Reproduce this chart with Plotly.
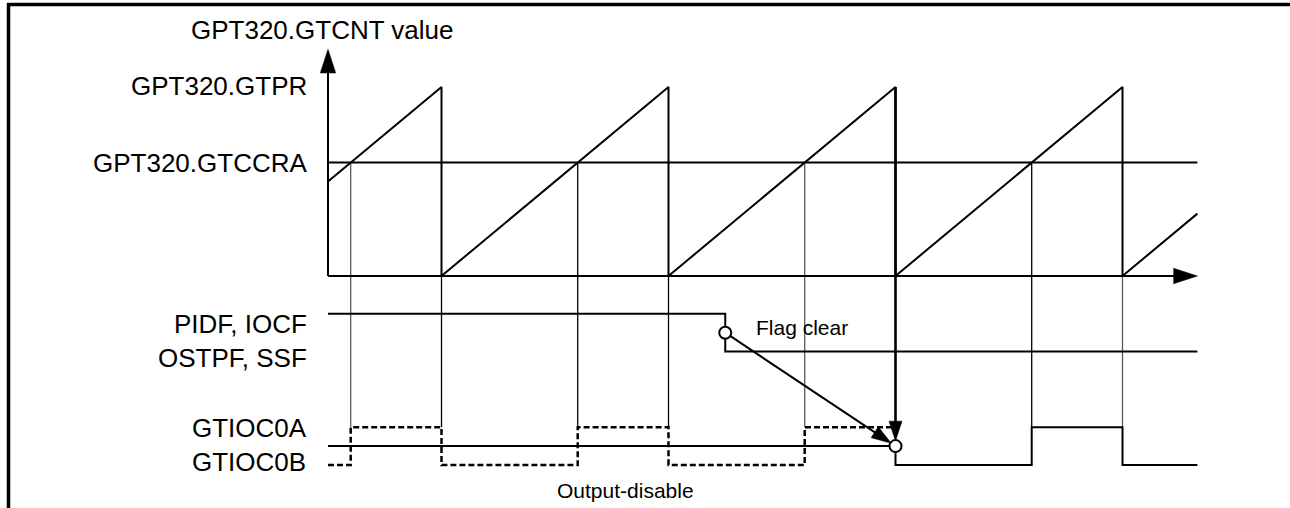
import plotly.graph_objects as go

# ---------------- data (time in GTCNT periods, counter normalised to GTPR) ----------------
reset_times = [0.5, 1.5, 2.5, 3.5]             # GTCNT reaches GTPR and is cleared
compare_match_times = [0.1, 1.1, 2.1, 3.1]     # GTCNT == GTCCRA
cnt_t = [0.0, 0.5, 0.5, 1.5, 1.5, 2.5, 2.5, 3.5, 3.5, 3.83]
cnt_v = [0.5, 1.0, 0.0, 1.0, 0.0, 1.0, 0.0, 1.0, 0.0, 0.33]
GTPR = 1.0
GTCCRA = 0.6
T_END = 3.83
CNT_AXIS_TOP = 1.2

# status flags (PIDF, IOCF, OSTPF, SSF): 1 = set, 0 = cleared
flag_t = [0.0, 1.75, 1.75, T_END]
flag_v = [1, 1, 0, 0]
flag_clear_t = 1.75

# output pins: 1 = high, 0 = low, 0.5 = output-disable level
gtioc0a_t = [0.0, 2.5, 2.5, 3.1, 3.1, 3.5, 3.5, T_END]
gtioc0a_v = [0.5, 0.5, 0, 0, 1, 1, 0, 0]
gtioc0b_t = [0.0, 0.1, 0.1, 0.5, 0.5, 1.1, 1.1, 1.5, 1.5, 2.1, 2.1, 2.5]
gtioc0b_v = [0, 0, 1, 1, 0, 0, 1, 1, 0, 0, 1, 1]
output_release_t = 2.5

label_cnt_axis = "GPT320.GTCNT value"
label_gtpr = "GPT320.GTPR"
label_gtccra = "GPT320.GTCCRA"
label_flags = "PIDF, IOCF<br>OSTPF, SSF"
label_io = "GTIOC0A<br>GTIOC0B"
label_flag_clear = "Flag clear"
label_output_disable = "Output-disable"
output_disable_label_t = 1.31

# ---------------- layout constants ----------------
FLAG_ROW = -0.4      # baseline of flag row (counter units)
IO_ROW = -1.0        # baseline of pin row
SWING = 0.2          # height of a logic level
W, H = 1290, 508
X_RANGE = [-328 / 227, (W - 328) / 227]
Y_RANGE = [-(H - 276) / 189, 276 / 189]
FONT = "Liberation Sans, Arial, sans-serif"
BLACK = "#000000"
GRAY = "#5a5a5a"
LW = 2


def row(vals, base):
    return [base + SWING * v for v in vals]


io_high = IO_ROW + SWING
fig = go.Figure()

# vertical guide lines
guides_black_x, guides_black_y, guides_gray_x, guides_gray_y = [], [], [], []
for i, t in enumerate(compare_match_times):
    xs, ys = (guides_gray_x, guides_gray_y) if i % 2 == 0 else (guides_black_x, guides_black_y)
    xs += [t, t, None]
    ys += [GTCCRA, io_high, None]
for i, t in enumerate(reset_times):
    if t == output_release_t:
        continue
    xs, ys = (guides_gray_x, guides_gray_y) if i == 3 else (guides_black_x, guides_black_y)
    xs += [t, t, None]
    ys += [0, io_high, None]
fig.add_trace(go.Scatter(x=guides_black_x, y=guides_black_y, mode="lines",
                         line=dict(color=BLACK, width=1.3)))
fig.add_trace(go.Scatter(x=guides_gray_x, y=guides_gray_y, mode="lines",
                         line=dict(color=GRAY, width=1.3)))

# GTCCRA level
fig.add_trace(go.Scatter(x=[0, T_END], y=[GTCCRA, GTCCRA], mode="lines",
                         line=dict(color=BLACK, width=LW)))
# counter sawtooth
fig.add_trace(go.Scatter(x=cnt_t, y=cnt_v, mode="lines",
                         line=dict(color=BLACK, width=LW)))

# axes with arrow heads
arrow_marker = dict(symbol="arrow", size=[0, 25], angleref="previous",
                    color=BLACK, opacity=1, line=dict(width=0.5, color=BLACK))
fig.add_trace(go.Scatter(x=[0, 0], y=[0, CNT_AXIS_TOP], mode="lines+markers",
                         line=dict(color=BLACK, width=LW), marker=arrow_marker))
fig.add_trace(go.Scatter(x=[0, T_END], y=[0, 0], mode="lines+markers",
                         line=dict(color=BLACK, width=LW), marker=arrow_marker))

# flags
fig.add_trace(go.Scatter(x=flag_t, y=row(flag_v, FLAG_ROW), mode="lines",
                         line=dict(color=BLACK, width=LW)))
# pins
fig.add_trace(go.Scatter(x=gtioc0b_t, y=row(gtioc0b_v, IO_ROW), mode="lines",
                         line=dict(color=BLACK, width=2.5, dash="6px,3px")))
fig.add_trace(go.Scatter(x=gtioc0a_t, y=row(gtioc0a_v, IO_ROW), mode="lines",
                         line=dict(color=BLACK, width=LW)))

# flag clear -> output release arrow
flag_mid = FLAG_ROW + SWING / 2
io_mid = IO_ROW + SWING / 2
small_arrow = dict(symbol="arrow", size=[0, 21], angleref="previous", standoff=[0, 5],
                   color=BLACK, opacity=1, line=dict(width=0.5, color=BLACK))
fig.add_trace(go.Scatter(x=[flag_clear_t, output_release_t], y=[flag_mid, io_mid],
                         mode="lines+markers", line=dict(color=BLACK, width=LW),
                         marker=small_arrow))
fig.add_trace(go.Scatter(x=[output_release_t, output_release_t], y=[GTPR, io_mid],
                         mode="lines+markers", line=dict(color=BLACK, width=2.6),
                         marker=small_arrow))
# open circles
fig.add_trace(go.Scatter(x=[flag_clear_t, output_release_t], y=[flag_mid, io_mid],
                         mode="markers",
                         marker=dict(symbol="circle", size=12, color="white",
                                     line=dict(color=BLACK, width=2))))

big = dict(family=FONT, size=26, color=BLACK)
small = dict(family=FONT, size=21, color=BLACK)
ann = [
    dict(text=label_cnt_axis, x=0, y=CNT_AXIS_TOP, xanchor="center", yanchor="middle",
         xshift=-6, yshift=19, font=big),
    dict(text=label_gtpr, x=0, y=GTPR, xanchor="right", yanchor="middle",
         xshift=-19, yshift=1, font=big),
    dict(text=label_gtccra, x=0, y=GTCCRA, xanchor="right", yanchor="middle",
         xshift=-19, yshift=0, font=big),
    dict(text=label_flags, x=0, y=flag_mid, xanchor="right", yanchor="middle",
         xshift=-19, yshift=-8, align="right", font=big),
    dict(text=label_io, x=0, y=io_mid, xanchor="right", yanchor="middle",
         xshift=-19, yshift=1, align="right", font=big),
    dict(text=label_flag_clear, x=flag_clear_t, y=flag_mid, xanchor="left",
         yanchor="middle", xshift=29, yshift=5, font=small),
    dict(text=label_output_disable, x=output_disable_label_t, y=IO_ROW,
         xanchor="center", yanchor="middle", yshift=-25, font=small),
]
for a in ann:
    a.update(xref="x", yref="y", showarrow=False)

fig.update_layout(
    width=W, height=H, margin=dict(l=0, r=0, t=0, b=0),
    paper_bgcolor="white", plot_bgcolor="white", showlegend=False,
    xaxis=dict(visible=False, range=X_RANGE, fixedrange=True),
    yaxis=dict(visible=False, range=Y_RANGE, fixedrange=True),
    annotations=ann,
    shapes=[
        dict(type="line", xref="paper", yref="paper", x0=8.5 / W, x1=8.5 / W,
             y0=0, y1=1 - 3 / H, line=dict(color=BLACK, width=3.5)),
        dict(type="line", xref="paper", yref="paper", x0=7 / W, x1=1,
             y0=1 - 4.5 / H, y1=1 - 4.5 / H, line=dict(color=BLACK, width=3.5)),
    ],
)

fig.write_html("out.html", config={"displayModeBar": False},
               post_script="document.body.style.margin='0';")
